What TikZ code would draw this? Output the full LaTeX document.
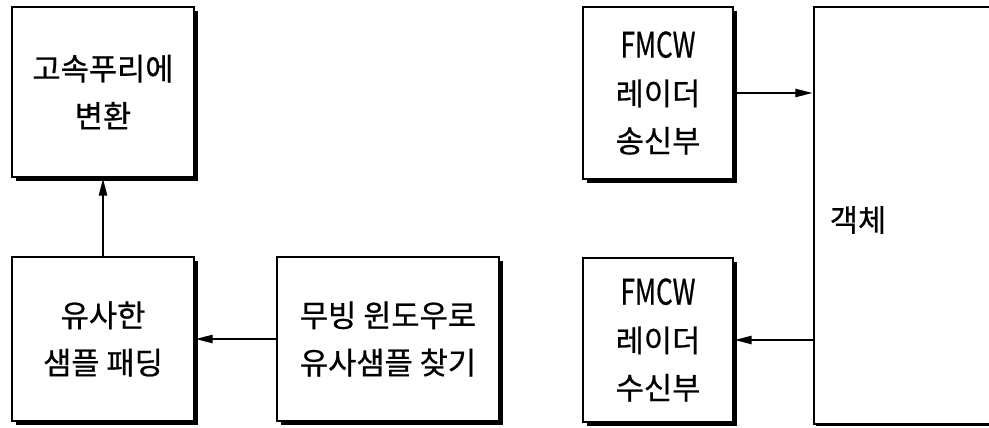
\documentclass[tikz,border=0pt]{standalone}
\usepackage{fontspec}
\usepackage{graphicx}
\setmainfont{Noto Sans CJK KR}[FakeBold=0.7]
\usetikzlibrary{arrows.meta,shadows}
\newcommand{\fmcw}{\scalebox{0.85}[1.15]{FMCW}}
\begin{document}
\begin{tikzpicture}[x=0.75pt,y=-0.75pt,
  blk/.style={draw=black,line width=1.9pt,fill=white,align=center,
    font=\fontsize{23}{35.5}\selectfont,inner sep=0pt},
  shad/.style={drop shadow={shadow xshift=3pt,shadow yshift=-3pt,fill=black,opacity=1}},
  smallshad/.style={drop shadow={shadow xshift=1.2pt,shadow yshift=-1.2pt,fill=black,opacity=1}},
  arr/.style={line width=1.7pt,-{Triangle[length=13pt,width=6pt]}}]
\useasboundingbox (0,0) rectangle (989,428);
\clip (0,0) rectangle (989,428);
\node[blk,shad,minimum width=136.5pt,minimum height=127.5pt] (A) at (103,92) {고속푸리에\\변환};
\node[blk,shad,minimum width=136.5pt,minimum height=123pt] (B) at (103,339) {유사한\\샘플 패딩};
\node[blk,shad,minimum width=166.5pt,minimum height=123pt] (C) at (388,339) {무빙 윈도우로\\유사샘플 찾기};
\node[blk,shad,minimum width=112.5pt,minimum height=129pt] (D) at (658,93) {\fmcw\\레이더\\송신부};
\node[blk,shad,minimum width=112.5pt,minimum height=123pt] (E) at (658,340) {\fmcw\\레이더\\수신부};
\node[blk,smallshad,minimum width=139.5pt,minimum height=312.75pt] (F) at (907,215.5) {};
\node[font=\fontsize{23}{35.5}\selectfont,inner sep=0pt] (Ft) at (858,220) {객체};
\draw[arr] (D.east) -- (D.east -| F.west);
\draw[arr] (E.east -| F.west) -- (E.east);
\draw[arr] (C.west) -- (C.west -| B.east);
\draw[arr] (B.north) -- (A.south);
\end{tikzpicture}
\end{document}
